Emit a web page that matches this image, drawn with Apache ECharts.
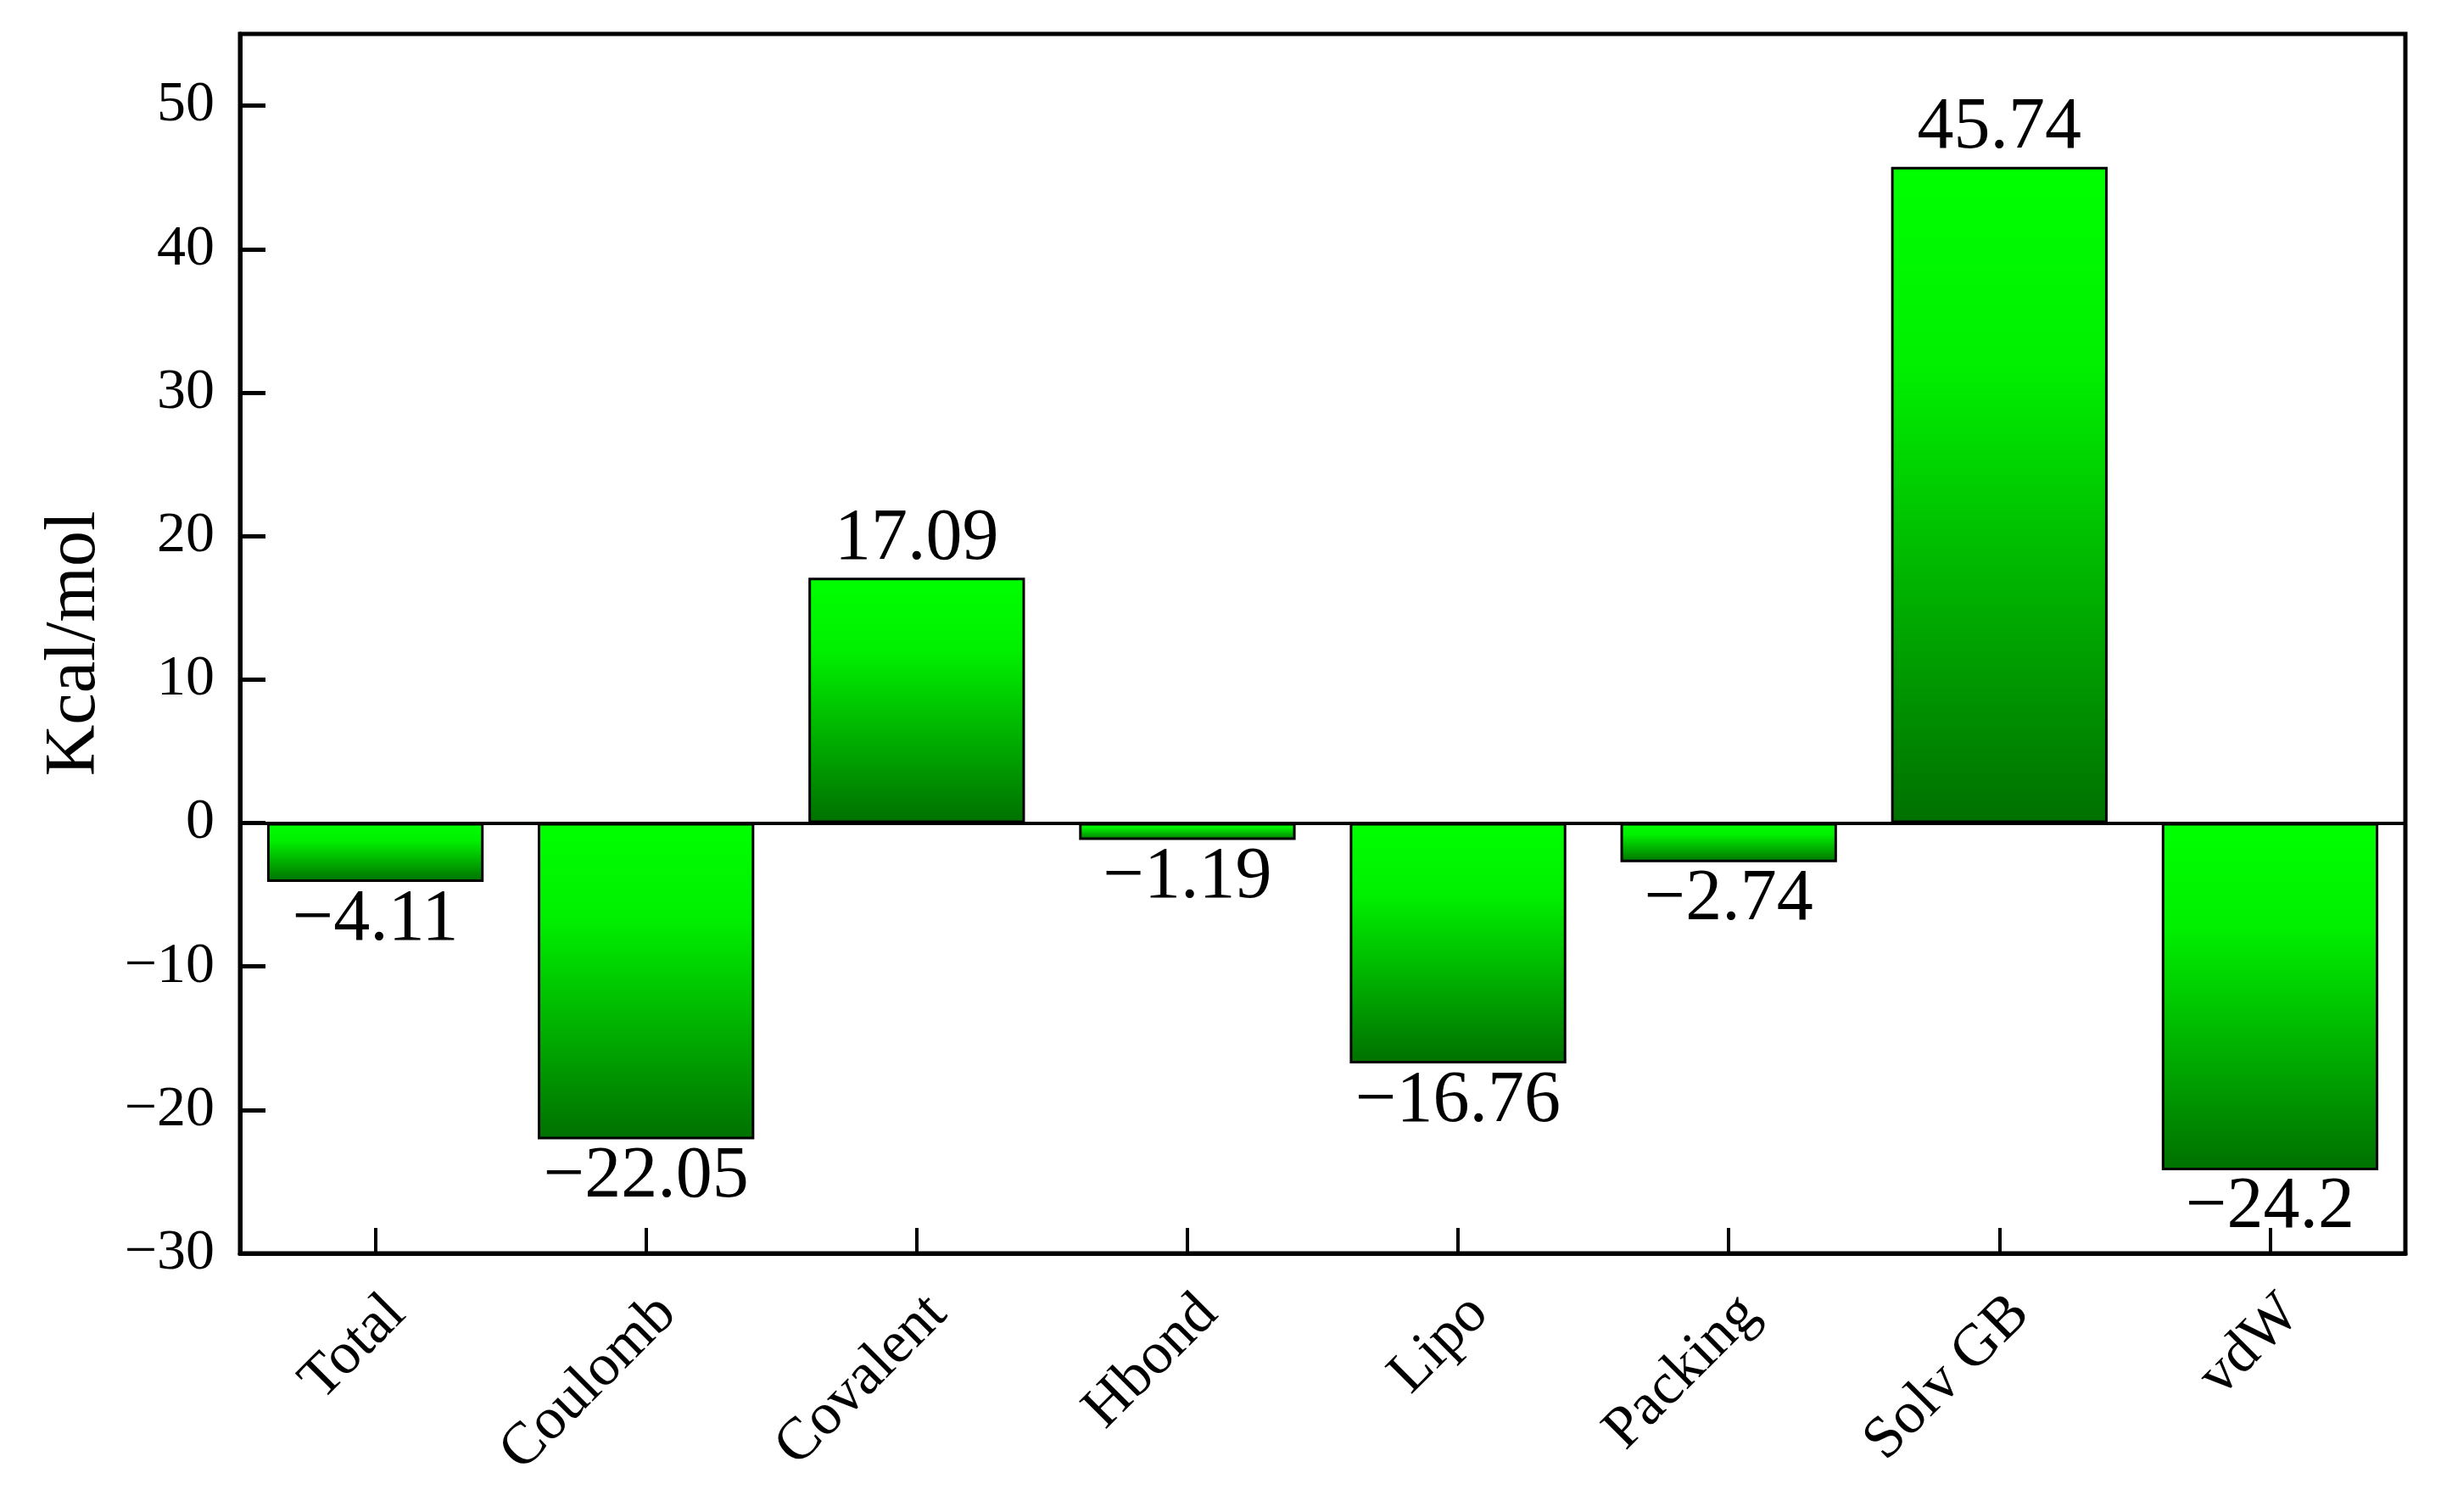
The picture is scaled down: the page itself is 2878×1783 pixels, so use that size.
<!DOCTYPE html>
<html>
<head>
<meta charset="utf-8">
<script src="https://cdn.jsdelivr.net/npm/echarts@6/dist/echarts.min.js"></script>
<style>
html,body{margin:0;padding:0;background:#fff;}
#chart{width:2878px;height:1783px;}
</style>
</head>
<body>
<div id="chart"></div>
<script>
const categories = ['Total', 'Coulomb', 'Covalent', 'Hbond', 'Lipo', 'Packing', 'Solv GB', 'vdW'];
const values = [-4.11, -22.05, 17.09, -1.19, -16.76, -2.74, 45.74, -24.2];
const yTicks = [-30, -20, -10, 0, 10, 20, 30, 40, 50];
const yName = 'Kcal/mol';

const FONT = '"Liberation Serif", "DejaVu Serif", serif';
const minus = s => String(s).replace('-', '\u2212');

const chart = echarts.init(document.getElementById('chart'));

const barData = values.map(v => ({
  value: v,
  label: { position: v >= 0 ? 'top' : 'bottom' }
}));

const option = {
  backgroundColor: '#ffffff',
  animation: false,
  grid: {
    left: 283, right: 42, top: 40, bottom: 305,
    show: true, borderColor: '#000', borderWidth: 5, backgroundColor: 'transparent'
  },
  xAxis: {
    type: 'category',
    data: categories,
    axisLine: { show: true, onZero: false, lineStyle: { color: '#000', width: 5 } },
    axisTick: { show: true, inside: true, alignWithLabel: true, length: 30, lineStyle: { color: '#000', width: 4 } },
    axisLabel: {
      show: true, rotate: 45, margin: 36, color: '#000',
      verticalAlign: 'top',
      fontFamily: FONT, fontSize: 70
    },
    splitLine: { show: false }
  },
  yAxis: {
    type: 'value',
    min: yTicks[0], max: 55, interval: 10,
    name: yName,
    nameLocation: 'middle',
    nameGap: 152,
    nameTextStyle: { color: '#000', fontFamily: FONT, fontSize: 84 },
    axisLine: { show: true, lineStyle: { color: '#000', width: 5 } },
    axisTick: { show: true, inside: true, length: 30, lineStyle: { color: '#000', width: 5 } },
    axisLabel: {
      show: true, showMaxLabel: false, color: '#000', margin: 30,
      fontFamily: FONT, fontSize: 68,
      formatter: v => yTicks.includes(v) ? minus(v) : ''
    },
    splitLine: { show: false }
  },
  series: [{
    type: 'bar',
    data: barData,
    barWidth: '80%',
    itemStyle: {
      borderColor: '#000', borderWidth: 3,
      color: new echarts.graphic.LinearGradient(0, 0, 0, 1, [
        { offset: 0, color: '#00ff00' },
        { offset: 0.3, color: '#00f000' },
        { offset: 1, color: '#007000' }
      ])
    },
    label: {
      show: true, color: '#000', distance: 2,
      fontFamily: FONT, fontSize: 86,
      formatter: p => minus(p.value)
    },
    markLine: {
      silent: true, symbol: 'none',
      label: { show: false },
      lineStyle: { color: '#000', width: 4, type: 'solid' },
      data: [{ yAxis: 0 }]
    }
  }]
};
chart.setOption(option);
</script>
</body>
</html>
